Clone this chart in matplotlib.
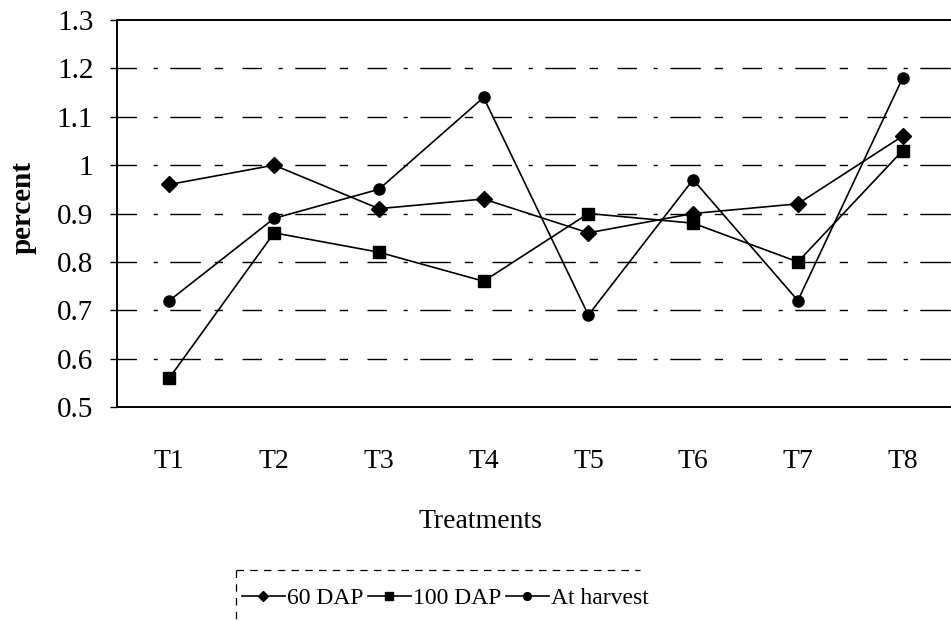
import matplotlib.pyplot as plt
from matplotlib.lines import Line2D
import numpy as np

plt.rcParams['font.family'] = ['Liberation Serif', 'DejaVu Serif']

treatments = ['T1', 'T2', 'T3', 'T4', 'T5', 'T6', 'T7', 'T8']
dap60 = [0.96, 1.00, 0.91, 0.93, 0.86, 0.90, 0.92, 1.06]
dap100 = [0.56, 0.86, 0.82, 0.76, 0.90, 0.88, 0.80, 1.03]
harvest = [0.72, 0.89, 0.95, 1.14, 0.69, 0.97, 0.72, 1.18]
yticks = [0.5, 0.6, 0.7, 0.8, 0.9, 1.0, 1.1, 1.2, 1.3]
ytick_labels = ['0.5', '0.6', '0.7', '0.8', '0.9', '1', '1.1', '1.2', '1.3']

fig = plt.figure(figsize=(9.51, 6.21), dpi=100)
# plot area runs a little past the right edge, as in the printed figure
ax = fig.add_axes([117 / 951, 1 - 407 / 621, 838 / 951, 387 / 621])

x = np.arange(len(treatments))
ax.plot(x, dap60, color='black', lw=1.2, marker='D', ms=8, label='60 DAP')
ax.plot(x, dap100, color='black', lw=1.2, marker='s', ms=8, label='100 DAP')
ax.plot(x, harvest, color='black', lw=1.2, marker='o', ms=8, label='At harvest')

ax.set_xlim(-0.5, len(treatments) - 0.5)
ax.set_ylim(0.5, 1.3)
ax.set_yticks(yticks)
ax.set_yticklabels(ytick_labels)
ax.set_xticks(x)
ax.set_xticklabels(treatments)

# broken horizontal gridlines
for v in yticks[1:-1]:
    ax.axhline(v, color='black', lw=1.0, ls=(0, (14, 12, 3, 9, 22, 10, 6, 14)), zorder=0)

for s in ax.spines.values():
    s.set_linewidth(1.4)

ax.tick_params(axis='y', labelsize=21, direction='out', length=5, width=1, pad=12)
ax.tick_params(axis='x', labelsize=20, length=0, pad=30)

fig.text(23 / 951, 1 - 208 / 621, 'percent', rotation=90, ha='center', va='center',
         fontsize=21, fontweight='bold')
fig.text(480 / 951, 1 - 521 / 621, 'Treatments', ha='center', va='center', fontsize=20)

# legend entries without frame; the dashed top/left edges are drawn separately
leg = fig.legend(loc='center left', bbox_to_anchor=(242 / 951, 1 - 598 / 621), ncol=3,
                 borderaxespad=0, fontsize=17, markerscale=0.7, handlelength=1.8,
                 handletextpad=0.1, columnspacing=0.2, borderpad=0, frameon=False)
x0, x1 = 236 / 951, 640 / 951
ytop = 1 - 570 / 621
fig.add_artist(Line2D([x0, x1], [ytop, ytop], transform=fig.transFigure,
                      color='black', lw=0.9, ls=(0, (6, 5))))
fig.add_artist(Line2D([x0, x0], [ytop, 0], transform=fig.transFigure,
                      color='black', lw=0.9, ls=(0, (6, 5))))

fig.savefig('out.png', dpi=100)
